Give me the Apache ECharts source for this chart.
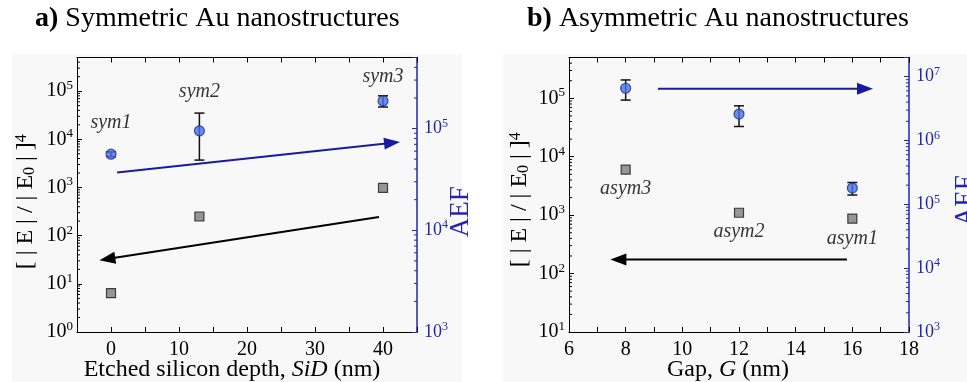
<!DOCTYPE html>
<html><head><meta charset="utf-8">
<script src="https://cdn.jsdelivr.net/npm/echarts@6/dist/echarts.min.js"></script>
<style>html,body{margin:0;padding:0;background:#fff}#c{width:967px;height:382px}</style>
</head><body><div id="c"></div>
<script>
// ---- Panel a: symmetric nanostructures ----
const symDepth = [0, 13, 40];
const symNames = ['sym1', 'sym2', 'sym3'];
const symEnh = [6.4, 250, 980];
const symAEF = [5.6e4, 9.5e4, 1.87e5];
const symAEFLow = [5.3e4, 4.9e4, 1.63e5];
const symAEFHigh = [5.9e4, 1.42e5, 2.1e5];
const symArrowAEF = [0.9, 3.7e4, 42.5, 7.4e4];
const symArrowEnh = [39.4, 245, -1.7, 31];
const symXTicks = [0, 10, 20, 30, 40];

// ---- Panel b: asymmetric nanostructures ----
const asymGap = [8, 12, 16];
const asymNames = ['asym3', 'asym2', 'asym1'];
const asymEnh = [6000, 1100, 870];
const asymAEF = [6.6e6, 2.6e6, 1.8e5];
const asymAEFLow = [4.3e6, 1.66e6, 1.4e5];
const asymAEFHigh = [8.9e6, 3.5e6, 2.2e5];
const asymArrowAEF = [9.14, 6.5e6, 16.73, 6.5e6];
const asymArrowEnh = [15.81, 174, 7.46, 174];
const asymXTicks = [6, 8, 10, 12, 14, 16, 18];

const FONT = '"Liberation Serif", "Times New Roman", serif';
const BLUE = '#2424b0';
const ARROW_BLUE = '#1a1aa0';

function powLabel(color, size, supSize) {
  return {
    margin: 4,
    formatter: function (v) {
      const l = Math.log10(v), r = Math.round(l);
      if (Math.abs(l - r) > 1e-6) return '';
      return '{b|10}{e|' + r + '}';
    },
    rich: {
      b: { fontFamily: FONT, fontSize: size, color: color, lineHeight: size + 4 },
      e: { fontFamily: FONT, fontSize: supSize, color: color, verticalAlign: 'top', lineHeight: supSize + 1 }
    }
  };
}

function xAxes(gridIndex, min, max, interval, ticks, name, nameRich, shift) {
  const common = {
    gridIndex: gridIndex, type: 'value', min: min, max: max, interval: interval,
    splitLine: { show: false },
    axisLine: { show: true, onZero: false, lineStyle: { color: '#000', width: 1 } },
    axisTick: { show: true, inside: true, length: 5, lineStyle: { color: '#000' } }
  };
  return [
    Object.assign({}, common, {
      position: 'bottom',
      axisLabel: { margin: 8, fontFamily: FONT, fontSize: 20, color: '#000',
        formatter: v => ticks.indexOf(v) >= 0 ? String(v) : '', showMinLabel: true, showMaxLabel: true },
      name: name, nameLocation: 'middle', nameGap: 26, nameMoveOverlap: false,
      nameTextStyle: { fontFamily: FONT, fontSize: 24, color: '#000', rich: nameRich,
        padding: [0, shift, 0, 0] }
    }),
    Object.assign({}, common, { position: 'top', axisLabel: { show: false } })
  ];
}

const yNameRich = {
  sub: { fontFamily: FONT, fontSize: 16, color: '#000', verticalAlign: 'bottom', lineHeight: 20 },
  sup: { fontFamily: FONT, fontSize: 16, color: '#000', verticalAlign: 'top', lineHeight: 14 }
};
const yName = '[ | E | / | E{sub|0} | ]{sup|4}';

function yAxisLeft(gridIndex, min, max, gap, shift) {
  return {
    gridIndex: gridIndex, type: 'log', logBase: 10, min: min, max: max, position: 'left',
    splitLine: { show: false },
    axisLine: { show: true, onZero: false, lineStyle: { color: '#000', width: 1 } },
    axisTick: { show: true, inside: true, length: 5, lineStyle: { color: '#000' } },
    axisLabel: powLabel('#000', 20, 13),
    name: yName, nameLocation: 'middle', nameGap: gap, nameRotate: 90, nameMoveOverlap: false,
    nameTextStyle: { fontFamily: FONT, fontSize: 24, color: '#000', rich: yNameRich,
      padding: [0, shift, 0, 0] }
  };
}
function yAxisRight(gridIndex, min, max, gap, shift) {
  const lab = powLabel(BLUE, 18, 12); lab.margin = 7;
  return {
    gridIndex: gridIndex, type: 'log', logBase: 10, min: min, max: max, position: 'right',
    splitLine: { show: false },
    axisLine: { show: true, onZero: false, lineStyle: { color: BLUE, width: 1.5 } },
    axisTick: { show: true, inside: true, length: 5, lineStyle: { color: BLUE } },
    axisLabel: lab,
    name: 'AEF', nameLocation: 'middle', nameGap: gap, nameRotate: 90, nameMoveOverlap: false,
    nameTextStyle: { fontFamily: FONT, fontSize: 27, color: BLUE, padding: [0, shift, 0, 0] }
  };
}

function minorTicks(xi, yi, xEdge, lo, hi, dir, color) {
  const vals = [];
  for (let n = Math.floor(Math.log10(lo)); n <= Math.ceil(Math.log10(hi)); n++) {
    for (let k = 2; k <= 9; k++) {
      const v = k * Math.pow(10, n);
      if (v > lo && v < hi) vals.push([xEdge, v]);
    }
  }
  return {
    type: 'custom', xAxisIndex: xi, yAxisIndex: yi, clip: false, silent: true, z: 1,
    encode: { x: 0, y: 1 },
    data: vals,
    renderItem: function (params, api) {
      const p = api.coord([api.value(0), api.value(1)]);
      return { type: 'line', shape: { x1: p[0], y1: p[1], x2: p[0] + dir * 3, y2: p[1] },
        style: { stroke: color, lineWidth: 1 } };
    }
  };
}

function errorBars(xi, yi, xs, lows, highs) {
  return {
    type: 'custom', xAxisIndex: xi, yAxisIndex: yi, z: 2, silent: true,
    encode: { x: 0, y: [1, 2] },
    data: xs.map((x, i) => [x, lows[i], highs[i]]),
    renderItem: function (params, api) {
      const a = api.coord([api.value(0), api.value(1)]);
      const b = api.coord([api.value(0), api.value(2)]);
      const st = { stroke: '#111', lineWidth: 1.5 };
      return { type: 'group', children: [
        { type: 'line', shape: { x1: a[0], y1: a[1], x2: b[0], y2: b[1] }, style: st },
        { type: 'line', shape: { x1: a[0] - 5, y1: a[1], x2: a[0] + 5, y2: a[1] }, style: st },
        { type: 'line', shape: { x1: b[0] - 5, y1: b[1], x2: b[0] + 5, y2: b[1] }, style: st }
      ] };
    }
  };
}

function arrow(xi, yi, seg, color) {
  return {
    type: 'custom', xAxisIndex: xi, yAxisIndex: yi, z: 3, silent: true, clip: false,
    encode: { x: [0, 2], y: [1, 3] },
    data: [seg],
    renderItem: function (params, api) {
      const p1 = api.coord([api.value(0), api.value(1)]);
      const p2 = api.coord([api.value(2), api.value(3)]);
      const dx = p2[0] - p1[0], dy = p2[1] - p1[1], len = Math.hypot(dx, dy);
      const ux = dx / len, uy = dy / len, nx = -uy, ny = ux;
      const L = 16, W = 6;
      const bx = p2[0] - ux * L, by = p2[1] - uy * L;
      return { type: 'group', children: [
        { type: 'line', shape: { x1: p1[0], y1: p1[1], x2: bx + ux * 2, y2: by + uy * 2 },
          style: { stroke: color, lineWidth: 2 } },
        { type: 'polygon', shape: { points: [[p2[0], p2[1]], [bx + nx * W, by + ny * W], [bx - nx * W, by - ny * W]] },
          style: { fill: color } }
      ] };
    }
  };
}

const squareStyle = { color: '#7d7d7d', borderColor: '#1a1a1a', borderWidth: 1.2 };
const circleStyle = { color: '#4a70e4', borderColor: '#1c2f96', borderWidth: 1.2 };
const nameLabel = { fontFamily: FONT, fontSize: 20, fontStyle: 'italic', color: '#000' };

const symLabelGap = [16, 24, 9];
const asymLabelGap = [4, 4, 5];

const xNameRich = { i: { fontFamily: FONT, fontSize: 24, fontStyle: 'italic', color: '#000' } };
const titleStyle = { fontFamily: FONT, fontSize: 28, fontWeight: 'normal', color: '#000',
  rich: { b: { fontFamily: FONT, fontSize: 28, fontWeight: 'bold', color: '#000' } } };

const option = {
  animation: false,
  backgroundColor: '#ffffff',
  graphic: [
    { type: 'rect', left: 12, top: 54, shape: { width: 450, height: 330 }, style: { fill: '#f8f8f8' }, z: -10 },
    { type: 'rect', left: 503, top: 54, shape: { width: 464, height: 330 }, style: { fill: '#f8f8f8' }, z: -10 }
  ],
  title: [
    { text: '{b|a)} Symmetric Au nanostructures', left: 35, top: 5, padding: 0, textStyle: titleStyle },
    { text: '{b|b)} Asymmetric Au nanostructures', left: 527, top: 5, padding: 0, textStyle: titleStyle }
  ],
  grid: [
    { left: 77, right: 550, top: 57.5, bottom: 50, outerBoundsMode: 'none', containLabel: false },
    { left: 569, right: 58, top: 57.5, bottom: 50, outerBoundsMode: 'none', containLabel: false }
  ],
  xAxis: [].concat(
    xAxes(0, -5, 45, 5, symXTicks, 'Etched silicon depth, {i|SiD} (nm)', xNameRich, 30),
    xAxes(1, 6, 18, 1, asymXTicks, 'Gap, {i|G} (nm)', xNameRich, 22)
  ),
  yAxis: [
    yAxisLeft(0, 1, 5e5, 39, 14),
    yAxisRight(0, 1e3, 5e5, 30, 34),
    yAxisLeft(1, 10, 5e5, 37, 10),
    yAxisRight(1, 1e3, 2e7, 43, 12)
  ],
  series: [
    minorTicks(0, 0, -5, 1, 5e5, 1, '#000'),
    minorTicks(0, 1, 45, 1e3, 5e5, -1, BLUE),
    minorTicks(2, 2, 6, 10, 5e5, 1, '#000'),
    minorTicks(2, 3, 18, 1e3, 2e7, -1, BLUE),
    arrow(0, 1, symArrowAEF, ARROW_BLUE),
    arrow(0, 0, symArrowEnh, '#000'),
    arrow(2, 3, asymArrowAEF, ARROW_BLUE),
    arrow(2, 2, asymArrowEnh, '#000'),
    { type: 'scatter', xAxisIndex: 0, yAxisIndex: 0, symbol: 'rect', symbolSize: 9, z: 4,
      itemStyle: squareStyle, data: symDepth.map((x, i) => [x, symEnh[i]]) },
    errorBars(0, 1, symDepth, symAEFLow, symAEFHigh),
    { type: 'scatter', xAxisIndex: 0, yAxisIndex: 1, symbol: 'circle', symbolSize: 10, z: 5,
      itemStyle: circleStyle,
      data: symDepth.map((x, i) => ({ value: [x, symAEF[i]],
        label: { show: true, position: 'top', distance: symLabelGap[i], formatter: symNames[i] } })),
      label: nameLabel },
    { type: 'scatter', xAxisIndex: 2, yAxisIndex: 2, symbol: 'rect', symbolSize: 9, z: 4,
      itemStyle: squareStyle,
      data: asymGap.map((x, i) => ({ value: [x, asymEnh[i]],
        label: { show: true, position: 'bottom', distance: asymLabelGap[i], formatter: asymNames[i] } })),
      label: nameLabel },
    errorBars(2, 3, asymGap, asymAEFLow, asymAEFHigh),
    { type: 'scatter', xAxisIndex: 2, yAxisIndex: 3, symbol: 'circle', symbolSize: 10, z: 5,
      itemStyle: circleStyle, data: asymGap.map((x, i) => [x, asymAEF[i]]) }
  ]
};

const chart = echarts.init(document.getElementById('c'));
chart.setOption(option);
</script>
</body></html>
